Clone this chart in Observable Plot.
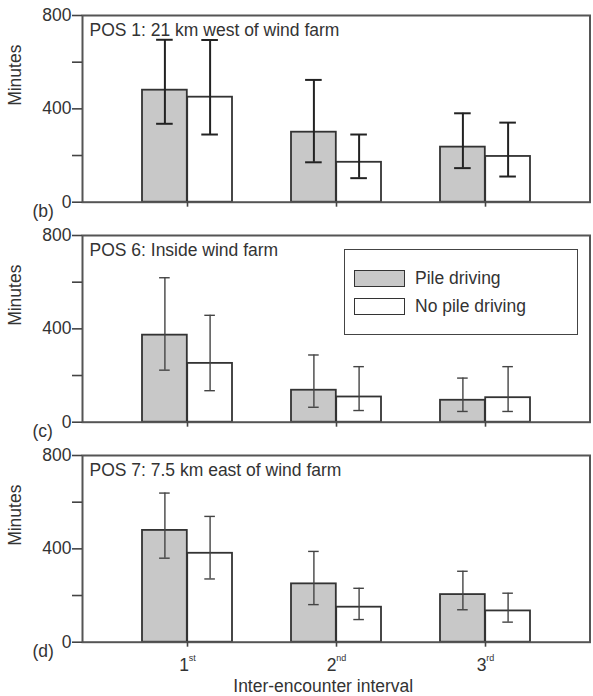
<!DOCTYPE html>
<html>
<head>
<meta charset="utf-8">
<script src="https://cdn.jsdelivr.net/npm/d3@7"></script>
<script src="https://cdn.jsdelivr.net/npm/@observablehq/plot@0.6"></script>
<style>
  body { margin: 0; background: #fff; }
  #chart { position: relative; width: 593px; height: 696px; font-family: "Liberation Sans", Arial, sans-serif; color: #333; background: #fff; }
  #chart svg { display: block; overflow: visible; }
  .legend { position: absolute; left: 344px; top: 249px; width: 232px; height: 84px; border: 1.5px solid #444; background: #fff; font-size: 17.5px; }
  .legend .item { position: absolute; left: 9px; display: flex; align-items: center; height: 17px; }
  .legend .sw { box-sizing: border-box; width: 51px; height: 17px; border: 1.8px solid #333; margin-right: 10px; }
</style>
</head>
<body>
<div id="chart"></div>
<script>
// Inter-encounter intervals (minutes) at three positions, with and without pile driving
const intervals = ["1st", "2nd", "3rd"];
const treatments = ["Pile driving", "No pile driving"];
const positions = ["POS 1: 21 km west of wind farm", "POS 6: Inside wind farm", "POS 7: 7.5 km east of wind farm"];
const panelTags = ["(b)", "(c)", "(d)"];

// [position][interval]
const pileMean = [[480, 300, 236], [373, 137, 94], [479, 250, 204]];
const pileLow = [[336, 171, 146], [223, 64, 46], [360, 161, 139]];
const pileHigh = [[696, 524, 381], [619, 288, 189], [639, 389, 304]];
const noPileMean = [[450, 171, 196], [252, 108, 105], [381, 150, 134]];
const noPileLow = [[290, 103, 110], [135, 50, 46], [271, 97, 86]];
const noPileHigh = [[695, 290, 341], [458, 238, 238], [539, 231, 210]];

const yTicks = [0, 200, 400, 600, 800];
const yTickLabels = [0, 400, 800];
const xTitle = "Inter-encounter interval";
const yTitle = "Minutes";

const font = "Liberation Sans, Arial, sans-serif";
const fontSize = 17.5;
const half = 45.2; // half of the band width, in pixels
const chart = document.getElementById("chart");

function rows(p, means, lows, highs) {
  return intervals.map((interval, i) => ({interval, mean: means[p][i], low: lows[p][i], high: highs[p][i]}));
}

function panel(p) {
  const last = p === positions.length - 1;
  const pile = rows(p, pileMean, pileLow, pileHigh);
  const noPile = rows(p, noPileMean, noPileLow, noPileHigh);
  const errStroke = p === 0 ? "#222" : "#444";
  const errWidth = p === 0 ? 2 : 1.4;
  const capWidth = p === 0 ? 17 : 11;
  const capInset = (2 * half - capWidth) / 2;
  const errorBars = (data, dx) => [
    Plot.ruleX(data, {x: "interval", y1: "low", y2: "high", dx, stroke: errStroke, strokeWidth: errWidth}),
    Plot.tickY(data, {x: "interval", y: "high", dx, insetLeft: capInset, insetRight: capInset, stroke: errStroke, strokeWidth: errWidth}),
    Plot.tickY(data, {x: "interval", y: "low", dx, insetLeft: capInset, insetRight: capInset, stroke: errStroke, strokeWidth: errWidth})
  ];
  const svg = Plot.plot({
    width: 593,
    height: last ? 256 : 220,
    marginLeft: 82,
    marginRight: 3.5,
    marginTop: 15,
    marginBottom: last ? 54.3 : 18.3,
    style: {fontFamily: font, fontSize: fontSize + "px", color: "#333", background: "transparent", overflow: "visible"},
    x: {domain: intervals, padding: 0.395},
    y: {domain: [0, 800]},
    marks: [
      Plot.barY(pile, {x: "interval", y: "mean", insetRight: half, fill: "#c8c8c8", stroke: "#333", strokeWidth: 1.8}),
      Plot.barY(noPile, {x: "interval", y: "mean", insetLeft: half, fill: "#fff", stroke: "#333", strokeWidth: 1.8}),
      ...errorBars(pile, -half / 2),
      ...errorBars(noPile, half / 2),
      Plot.frame({stroke: "#555", strokeWidth: 2}),
      Plot.axisY({ticks: yTicks, tickFormat: d => yTickLabels.includes(d) ? String(d) : "", tickSize: 10, tickPadding: 1, label: null, stroke: "#444", strokeWidth: 1.6}),
      Plot.axisX({tickSize: 5, tickPadding: 11, label: null, tickFormat: last ? d => d : () => "", stroke: "#444", strokeWidth: 1.6}),
      Plot.text([yTitle], {frameAnchor: "left", rotate: -90, dx: -67, dy: -3, fontSize}),
      Plot.text([positions[p]], {frameAnchor: "top-left", dx: 7, dy: 8, lineAnchor: "top", textAnchor: "start", fontSize}),
      Plot.text([panelTags[p]], {frameAnchor: "bottom-left", dx: -50, dy: 9, lineAnchor: "middle", textAnchor: "start", fontSize}),
      last ? Plot.text([xTitle], {frameAnchor: "bottom", dx: -13, dy: 44, lineAnchor: "middle", fontSize}) : null
    ]
  });
  if (last) {
    // ordinal suffixes as superscripts
    d3.select(svg).selectAll('g[aria-label="x-axis tick label"] text').each(function () {
      const m = this.textContent.match(/^(\d+)(\D+)$/);
      if (!m) return;
      const t = d3.select(this).text(null);
      t.append("tspan").text(m[1]);
      t.append("tspan").attr("font-size", "9px").attr("dy", "-1.05em").text(m[2]);
    });
  }
  return svg;
}

positions.forEach((_, p) => chart.appendChild(panel(p)));

// legend drawn inside the middle panel
const legend = document.createElement("div");
legend.className = "legend";
legend.innerHTML = treatments.map((t, i) =>
  `<div class="item" style="top:${i === 0 ? 20 : 48}px"><span class="sw" style="background:${i === 0 ? "#c8c8c8" : "#fff"}"></span><span>${t}</span></div>`
).join("");
chart.appendChild(legend);
</script>
</body>
</html>
